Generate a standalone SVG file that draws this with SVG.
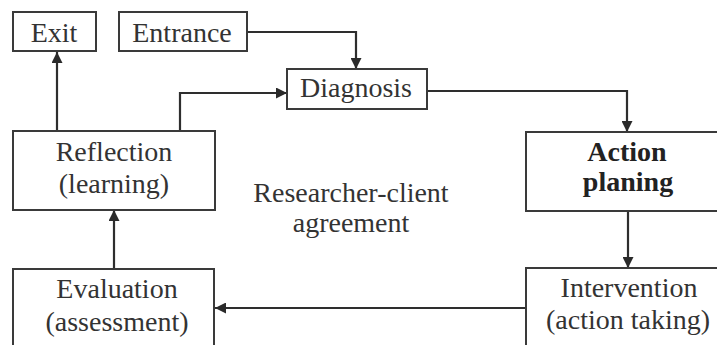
<svg xmlns="http://www.w3.org/2000/svg" width="717" height="345" viewBox="0 0 717 345">
<defs>
<marker id="arr" viewBox="0 0 10 10" refX="10" refY="5" markerWidth="5" markerHeight="5" orient="auto" markerUnits="strokeWidth">
<path d="M0,0 L10,5 L0,10 Z" fill="#2a2a2a"/>
</marker>
</defs>
<style>
rect{fill:#fff;stroke:#3a3a3a;stroke-width:2}
text{font-family:"Liberation Serif","Times New Roman",serif;font-size:28px;fill:#333;text-anchor:middle}
.b{font-weight:bold;fill:#222}
.c{fill:none;stroke:#2e2e2e;stroke-width:2.2;marker-end:url(#arr)}
</style>
<rect x="0" y="0" width="717" height="345" style="fill:#fff;stroke:none"/>
<g id="connectors">
<path class="c" d="M247,32 H356 V69"/>
<path class="c" d="M180,131 V93 H287"/>
<path class="c" d="M57,131 V52"/>
<path class="c" d="M427,91 H627 V132"/>
<path class="c" d="M628,211 V268"/>
<path class="c" d="M526,308 H215"/>
<path class="c" d="M114,269 V210"/>
</g>
<g id="exit"><rect x="13" y="12" width="83" height="39"/><text x="54" y="42">Exit</text></g>
<g id="entrance"><rect x="119" y="12" width="128" height="39"/><text x="182" y="42">Entrance</text></g>
<g id="diagnosis"><rect x="287" y="69" width="140" height="40"/><text x="356" y="97">Diagnosis</text></g>
<g id="action"><rect x="526" y="132" width="200" height="79"/><text class="b" x="627" y="161">Action</text><text class="b" x="628" y="191">planing</text></g>
<g id="reflection"><rect x="13" y="131" width="202" height="79"/><text x="114" y="161">Reflection</text><text x="114" y="193">(learning)</text></g>
<g id="evaluation"><rect x="13" y="269" width="201" height="90"/><text x="117" y="298">Evaluation</text><text x="117" y="331">(assessment)</text></g>
<g id="intervention"><rect x="526" y="268" width="200" height="90"/><text x="629" y="297">Intervention</text><text x="628" y="329">(action taking)</text></g>
<g id="agreement"><text x="351" y="202">Researcher-client</text><text x="351" y="232">agreement</text></g>
</svg>
